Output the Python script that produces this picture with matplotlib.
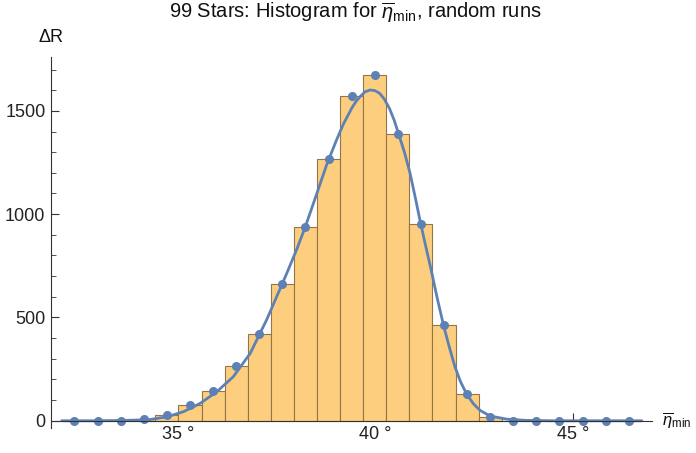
import matplotlib
matplotlib.use('Agg')
import matplotlib.pyplot as plt
import numpy as np

plt.rcParams['font.family'] = ['Liberation Sans', 'DejaVu Sans']
plt.rcParams['mathtext.fontset'] = 'custom'
plt.rcParams['mathtext.rm'] = 'Liberation Sans'
plt.rcParams['mathtext.it'] = 'Liberation Sans:italic'

# histogram of eta_min (degrees): 25 bins starting at 32.07 deg
bin_start = 32.0725
bin_width = 0.5855
counts = [0, 0, 1, 10, 28, 75, 143, 266, 421, 661, 937, 1265, 1570,
          1673, 1387, 952, 463, 130, 16, 0, 0, 0, 0, 0, 0]

# fitted distribution curve
fit_x = [32.04, 32.8, 33.4, 33.9, 34.28, 34.71, 35.13, 35.55, 35.97, 36.39,
         36.82, 37.24, 37.58, 37.75, 38.0, 38.21, 38.5, 38.76, 39.0, 39.18,
         39.4, 39.5, 39.61, 39.73, 39.86, 39.98, 40.1, 40.22, 40.35, 40.47,
         40.58, 40.73, 40.87, 41.0, 41.13, 41.27, 41.41, 41.56, 41.72, 41.87,
         42.01, 42.15, 42.31, 42.48, 42.65, 42.9, 43.32, 43.8, 44.5, 46.75]
fit_y = [0, 0, 1, 3, 6, 19, 44, 84, 140, 213,
         326, 490, 640, 715, 830, 935, 1095, 1240, 1355, 1435,
         1515, 1545, 1570, 1592, 1601, 1598, 1585, 1557, 1512, 1455,
         1390, 1300, 1200, 1085, 965, 845, 728, 595, 463, 355,
         262, 190, 128, 82, 50, 23, 8, 2, 0, 0]

x_ticks = [35, 40, 45]
y_ticks = [0, 500, 1000, 1500]

bar_color = '#FCCE7E'
bar_edge = '#957548'
fit_color = '#5E81B5'

centers = bin_start + bin_width * (np.arange(len(counts)) + 0.5)

fig = plt.figure(figsize=(6.96, 4.53), dpi=100)
ax = fig.add_axes([0.0733, 0.0552, 0.8631, 0.8196])

ax.bar(centers, counts, width=bin_width, color=bar_color,
       edgecolor=bar_edge, linewidth=0.8, zorder=2)
ax.plot(fit_x, fit_y, color=fit_color, lw=2.0, zorder=3,
        solid_joinstyle='round', solid_capstyle='round')
ax.plot(centers, counts, 'o', color=fit_color, ms=5.5, zorder=4)

ax.set_xlim(31.77, 47.0)
ax.set_ylim(-35, 1762)

# axes crossing at zero
ax.spines['top'].set_visible(False)
ax.spines['right'].set_visible(False)
ax.spines['bottom'].set_position(('data', 0))
for s in ['left', 'bottom']:
    ax.spines[s].set_color('#333333')
    ax.spines[s].set_linewidth(0.8)
ax.spines['bottom'].set_zorder(5)

ax.set_xticks(x_ticks)
ax.set_xticklabels([f'{t} °' for t in x_ticks])
ax.set_yticks(y_ticks)
ax.set_yticks(np.arange(100, 1800, 100), minor=True)
ax.tick_params(axis='both', which='major', direction='in', length=6,
               width=0.8, color='#333333', labelsize=13, labelcolor='#222222')
ax.tick_params(axis='y', which='minor', direction='in', length=3.5,
               width=0.6, color='#333333')
ax.tick_params(axis='x', pad=4)
ax.tick_params(axis='y', pad=4)

fig.text(0.51, 0.972, r'99 Stars: Histogram for $\overline{\eta}_{\rm min}$, random runs',
         ha='center', va='center', fontsize=14.5, color='#111111')
fig.text(0.055, 0.918, 'ΔR', ha='left', va='center', fontsize=13, color='#111111')
fig.text(0.951, 0.072, r'$\overline{\eta}_{\rm min}$', ha='left', va='center',
         fontsize=12, color='#111111')

fig.savefig('out.png', dpi=100)
